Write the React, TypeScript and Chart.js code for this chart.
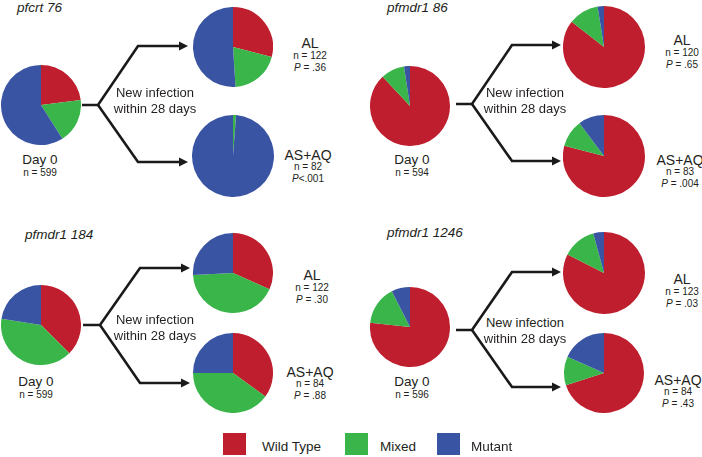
import React, { useEffect, useRef } from "react";
import { Chart, registerables } from "chart.js";

Chart.register(...registerables);

// categories / colours
const categories = ["Wild Type", "Mixed", "Mutant"];
const colors = ["#BE1E2D", "#39B54A", "#3A54A4"];

// series values (% of samples: Wild Type, Mixed, Mutant)
const pfcrt76Day0 = [23, 18, 59];
const pfcrt76AL = [29, 20, 51];
const pfcrt76ASAQ = [0, 1.2, 98.8];

const pfmdr86Day0 = [88, 9.6, 2.4];
const pfmdr86AL = [85.5, 12, 2.5];
const pfmdr86ASAQ = [79, 10.8, 10.2];

const pfmdr184Day0 = [37.5, 40, 22.5];
const pfmdr184AL = [31.7, 42.5, 25.8];
const pfmdr184ASAQ = [35, 40, 25];

const pfmdr1246Day0 = [76.7, 15.8, 7.5];
const pfmdr1246AL = [82.5, 13.3, 4.2];
const pfmdr1246ASAQ = [70, 11.7, 18.3];

// labels
const panelTitles = ["pfcrt 76", "pfmdr1 86", "pfmdr1 184", "pfmdr1 1246"];
const day0N = ["599", "594", "599", "596"];
const alN = ["122", "120", "122", "123"];
const alP = ["= .36", "= .65", "= .30", "= .03"];
const asaqN = ["82", "83", "84", "84"];
const asaqP = ["<.001", "= .004", "= .88", "= .43"];

const FONT = '"Liberation Sans", Arial, Helvetica, sans-serif';
const TEXT = "#231F20";

function Pie({ data, cx, cy, r }: { data: number[]; cx: number; cy: number; r: number }) {
  const ref = useRef<HTMLCanvasElement>(null);
  useEffect(() => {
    if (!ref.current) return;
    const chart = new Chart(ref.current, {
      type: "pie",
      data: {
        labels: categories,
        datasets: [{ data, backgroundColor: colors, borderWidth: 0 }],
      },
      options: {
        responsive: false,
        animation: false,
        events: [],
        layout: { padding: 0 },
        plugins: { legend: { display: false }, tooltip: { enabled: false } },
      },
    });
    return () => chart.destroy();
  }, [data]);
  return (
    <canvas
      ref={ref}
      width={2 * r}
      height={2 * r}
      style={{ position: "absolute", left: cx - r, top: cy - r, width: 2 * r, height: 2 * r }}
    />
  );
}

function Txt({ x, y, size, children, italic, align = "center" }: any) {
  return (
    <div
      style={{
        position: "absolute",
        left: x,
        top: y,
        transform: align === "center" ? "translate(-50%,-50%)" : "translate(0,-50%)",
        fontFamily: FONT,
        fontSize: size,
        fontStyle: italic ? "italic" : "normal",
        color: TEXT,
        whiteSpace: "nowrap",
        lineHeight: 1,
        textAlign: "center",
      }}
    >
      {children}
    </div>
  );
}

type Panel = {
  title: string;
  titleX: number;
  titleY: number;
  day0: number[];
  al: number[];
  asaq: number[];
  d0: [number, number, number];
  alPie: [number, number, number];
  asPie: [number, number, number];
  dayLbl: [number, number];
  alLbl: [number, number];
  asLbl: [number, number];
  newInf: [number, number];
  arrow: { sx: number; jx: number; y: number; dx: number; uy: number; ly: number; tip: number };
  i: number;
};

const panels: Panel[] = [
  {
    i: 0, title: panelTitles[0], titleX: 17, titleY: 8,
    day0: pfcrt76Day0, al: pfcrt76AL, asaq: pfcrt76ASAQ,
    d0: [41, 105, 40], alPie: [233, 47, 40], asPie: [233, 156, 41],
    dayLbl: [40, 160], alLbl: [310, 43], asLbl: [308, 155], newInf: [155, 92],
    arrow: { sx: 82, jx: 98, y: 105, dx: 138, uy: 46, ly: 162, tip: 188 },
  },
  {
    i: 1, title: panelTitles[1], titleX: 387, titleY: 8,
    day0: pfmdr86Day0, al: pfmdr86AL, asaq: pfmdr86ASAQ,
    d0: [410, 106, 40], alPie: [604, 47, 41], asPie: [604, 156, 41],
    dayLbl: [412, 160], alLbl: [682, 40], asLbl: [680, 160], newInf: [525, 92],
    arrow: { sx: 456, jx: 472, y: 104, dx: 512, uy: 45, ly: 161, tip: 561 },
  },
  {
    i: 2, title: panelTitles[2], titleX: 25, titleY: 235,
    day0: pfmdr184Day0, al: pfmdr184AL, asaq: pfmdr184ASAQ,
    d0: [41, 325, 40], alPie: [233, 273, 40], asPie: [233, 373, 40],
    dayLbl: [36, 382], alLbl: [312, 275], asLbl: [310, 372], newInf: [155, 319],
    arrow: { sx: 83, jx: 100, y: 325, dx: 140, uy: 268, ly: 383, tip: 190 },
  },
  {
    i: 3, title: panelTitles[3], titleX: 387, titleY: 233,
    day0: pfmdr1246Day0, al: pfmdr1246AL, asaq: pfmdr1246ASAQ,
    d0: [410, 327, 40], alPie: [604, 273, 41], asPie: [604, 373, 40],
    dayLbl: [412, 382], alLbl: [682, 279], asLbl: [678, 380], newInf: [525, 322],
    arrow: { sx: 456, jx: 472, y: 330, dx: 512, uy: 272, ly: 387, tip: 561 },
  },
];

function Arrows({ a }: { a: Panel["arrow"] }) {
  const head = 9;
  const hw = 4.5;
  return (
    <g>
      <polyline
        points={`${a.sx},${a.y} ${a.jx},${a.y} ${a.dx},${a.uy} ${a.tip - head + 1},${a.uy}`}
        fill="none"
        stroke="#1A1A1A"
        strokeWidth={2.6}
        strokeLinejoin="miter"
      />
      <polyline
        points={`${a.jx},${a.y} ${a.dx},${a.ly} ${a.tip - head + 1},${a.ly}`}
        fill="none"
        stroke="#1A1A1A"
        strokeWidth={2.6}
        strokeLinejoin="miter"
      />
      <polygon points={`${a.tip},${a.uy} ${a.tip - head},${a.uy - hw} ${a.tip - head},${a.uy + hw}`} fill="#1A1A1A" />
      <polygon points={`${a.tip},${a.ly} ${a.tip - head},${a.ly - hw} ${a.tip - head},${a.ly + hw}`} fill="#1A1A1A" />
    </g>
  );
}

export default function App() {
  return (
    <div
      style={{
        position: "absolute",
        left: 0,
        top: 0,
        width: 702,
        height: 457,
        background: "#FFFFFF",
        overflow: "hidden",
      }}
    >
      <svg width={702} height={457} style={{ position: "absolute", left: 0, top: 0 }}>
        {panels.map((p) => (
          <Arrows key={p.i} a={p.arrow} />
        ))}
      </svg>
      {panels.map((p) => (
        <React.Fragment key={p.i}>
          <Pie data={p.day0} cx={p.d0[0]} cy={p.d0[1]} r={p.d0[2]} />
          <Pie data={p.al} cx={p.alPie[0]} cy={p.alPie[1]} r={p.alPie[2]} />
          <Pie data={p.asaq} cx={p.asPie[0]} cy={p.asPie[1]} r={p.asPie[2]} />
          <Txt x={p.titleX} y={p.titleY} size={13.5} italic align="left">{p.title}</Txt>
          <Txt x={p.dayLbl[0]} y={p.dayLbl[1]} size={13.5}>Day 0</Txt>
          <Txt x={p.dayLbl[0]} y={p.dayLbl[1] + 13} size={10}>n = {day0N[p.i]}</Txt>
          <Txt x={p.alLbl[0]} y={p.alLbl[1]} size={14}>AL</Txt>
          <Txt x={p.alLbl[0]} y={p.alLbl[1] + 13} size={10}>n = {alN[p.i]}</Txt>
          <Txt x={p.alLbl[0]} y={p.alLbl[1] + 25} size={10}><i>P</i> {alP[p.i]}</Txt>
          <Txt x={p.asLbl[0]} y={p.asLbl[1]} size={14}>AS+AQ</Txt>
          <Txt x={p.asLbl[0]} y={p.asLbl[1] + 12} size={10}>n = {asaqN[p.i]}</Txt>
          <Txt x={p.asLbl[0]} y={p.asLbl[1] + 24} size={10}><i>P</i>{asaqP[p.i].startsWith("<") ? "" : " "}{asaqP[p.i]}</Txt>
          <Txt x={p.newInf[0]} y={p.newInf[1]} size={13}>New infection</Txt>
          <Txt x={p.newInf[0]} y={p.newInf[1] + 15.5} size={13}>within 28 days</Txt>
        </React.Fragment>
      ))}
      {categories.map((c, k) => {
        const sq = [223, 345, 437][k];
        const tx = [262, 380, 471][k];
        return (
          <React.Fragment key={c}>
            <div
              style={{
                position: "absolute",
                left: sq,
                top: 433,
                width: 23,
                height: 22,
                background: colors[k],
              }}
            />
            <Txt x={tx} y={447} size={13.5} align="left">{c}</Txt>
          </React.Fragment>
        );
      })}
    </div>
  );
}
